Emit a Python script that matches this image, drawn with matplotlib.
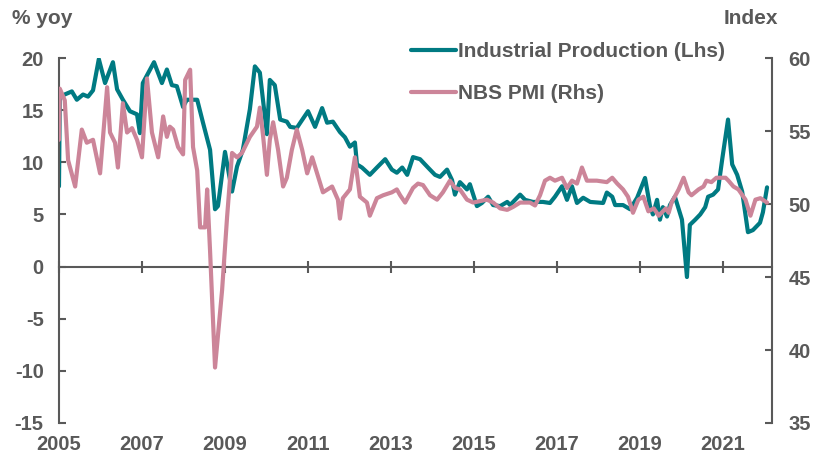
import matplotlib.pyplot as plt
import numpy as np

# Industrial production, % yoy (left axis)
ip_t = [2005.0, 2005.02, 2005.31, 2005.43, 2005.58, 2005.70, 2005.82, 2005.96, 2006.11, 2006.30,
        2006.40, 2006.54, 2006.71, 2006.88, 2006.95, 2007.02, 2007.29, 2007.48, 2007.60, 2007.72,
        2007.84, 2007.99, 2008.08, 2008.33, 2008.47, 2008.64, 2008.76, 2008.83, 2009.00, 2009.17,
        2009.29, 2009.43, 2009.60, 2009.72, 2009.84, 2010.01, 2010.08, 2010.20, 2010.33, 2010.49,
        2010.57, 2010.73, 2011.00, 2011.17, 2011.34, 2011.46, 2011.60, 2011.77, 2011.89, 2012.01,
        2012.13, 2012.18, 2012.30, 2012.49, 2012.66, 2012.86, 2013.02, 2013.14, 2013.27, 2013.39,
        2013.53, 2013.70, 2013.89, 2014.06, 2014.18, 2014.35, 2014.47, 2014.54, 2014.66, 2014.83,
        2014.90, 2015.07, 2015.19, 2015.34, 2015.46, 2015.63, 2015.80, 2015.87, 2016.11, 2016.23,
        2016.42, 2016.66, 2016.83, 2016.95, 2017.12, 2017.24, 2017.36, 2017.48, 2017.63, 2017.80,
        2018.11, 2018.20, 2018.33, 2018.40, 2018.59, 2018.76, 2018.93, 2019.12, 2019.24, 2019.31,
        2019.41, 2019.48, 2019.55, 2019.65, 2019.72, 2019.84, 2020.01, 2020.13, 2020.20, 2020.33,
        2020.45, 2020.57, 2020.64, 2020.76, 2020.88, 2020.98, 2021.12, 2021.22, 2021.34, 2021.46,
        2021.60, 2021.72, 2021.89, 2021.96, 2022.06]
ip_v = [7.7, 16.3, 16.8, 16.0, 16.5, 16.3, 16.9, 19.9, 17.6, 19.6,
        17.0, 16.0, 14.9, 14.6, 12.8, 17.6, 19.6, 17.6, 18.9, 17.4,
        17.3, 15.3, 16.0, 16.0, 13.8, 11.2, 5.5, 5.8, 11.0, 7.2,
        9.6, 11.2, 15.1, 19.2, 18.6, 12.7, 17.9, 17.4, 14.1, 13.9,
        13.4, 13.3, 14.9, 13.4, 15.2, 13.8, 13.9, 12.9, 12.4, 11.5,
        11.9, 9.8, 9.5, 8.8, 9.5, 10.3, 9.3, 9.0, 9.5, 8.8,
        10.5, 10.3, 9.5, 8.8, 8.6, 9.3, 8.3, 6.9, 8.1, 7.4,
        7.9, 5.8, 6.1, 6.7, 5.9, 5.8, 6.2, 5.9, 6.9, 6.4,
        6.2, 6.2, 6.1, 6.7, 7.7, 6.4, 7.7, 6.1, 6.6, 6.2,
        6.1, 7.1, 6.7, 5.9, 5.9, 5.5, 6.6, 8.5, 5.8, 5.0,
        6.4, 4.5, 5.7, 4.8, 5.9, 6.7, 4.5, -1.0, 4.0, 4.5,
        5.0, 5.7, 6.7, 6.9, 7.4, 10.3, 14.1, 9.8, 8.8, 7.2,
        3.3, 3.5, 4.2, 5.2, 7.6]

# NBS manufacturing PMI, index (right axis)
pmi_t = [2005.0, 2005.02, 2005.14, 2005.22, 2005.39, 2005.55, 2005.67, 2005.82, 2005.99, 2006.16,
         2006.23, 2006.35, 2006.42, 2006.54, 2006.64, 2006.76, 2006.88, 2007.00, 2007.12, 2007.24,
         2007.39, 2007.51, 2007.60, 2007.67, 2007.75, 2007.87, 2007.99, 2008.04, 2008.16, 2008.23,
         2008.33, 2008.40, 2008.52, 2008.57, 2008.64, 2008.76, 2008.93, 2009.05, 2009.17, 2009.29,
         2009.41, 2009.53, 2009.60, 2009.77, 2009.84, 2009.92, 2010.01, 2010.08, 2010.16, 2010.28,
         2010.40, 2010.49, 2010.61, 2010.73, 2010.86, 2010.98, 2011.10, 2011.22, 2011.36, 2011.58,
         2011.72, 2011.77, 2011.84, 2012.01, 2012.13, 2012.25, 2012.42, 2012.49, 2012.66, 2012.81,
         2013.02, 2013.14, 2013.22, 2013.34, 2013.53, 2013.65, 2013.77, 2013.94, 2014.11, 2014.25,
         2014.42, 2014.54, 2014.66, 2014.83, 2014.98, 2015.31, 2015.46, 2015.63, 2015.80, 2015.94,
         2016.11, 2016.35, 2016.47, 2016.59, 2016.71, 2016.83, 2016.95, 2017.12, 2017.24, 2017.36,
         2017.48, 2017.60, 2017.72, 2017.96, 2018.20, 2018.33, 2018.45, 2018.59, 2018.71, 2018.83,
         2018.96, 2019.08, 2019.20, 2019.33, 2019.45, 2019.62, 2019.69, 2019.76, 2019.93, 2020.05,
         2020.17, 2020.24, 2020.41, 2020.53, 2020.60, 2020.72, 2020.84, 2021.06, 2021.13, 2021.25,
         2021.37, 2021.54, 2021.66, 2021.78, 2021.90, 2022.06]
pmi_v = [54.4, 57.9, 57.1, 53.0, 51.2, 55.1, 54.2, 54.4, 52.1, 58.0,
         54.9, 54.2, 52.5, 56.9, 54.9, 55.2, 54.4, 53.2, 58.6, 54.9,
         53.2, 56.0, 54.6, 55.3, 55.1, 53.9, 53.4, 58.5, 59.2, 53.9,
         52.3, 48.4, 48.4, 51.0, 46.8, 38.8, 44.1, 49.1, 53.5, 53.2,
         53.5, 54.2, 54.6, 55.3, 56.6, 54.6, 52.0, 54.4, 55.6, 53.7,
         51.2, 51.8, 53.7, 55.1, 53.7, 52.1, 53.2, 52.1, 50.8, 51.2,
         50.3, 49.0, 50.4, 51.0, 53.2, 50.5, 50.1, 49.2, 50.4, 50.6,
         50.8, 51.0, 50.6, 50.1, 51.1, 51.4, 51.3, 50.6, 50.3, 50.8,
         51.6, 51.1, 51.0, 50.3, 50.1, 50.3, 50.1, 49.7, 49.6, 49.8,
         50.1, 50.1, 49.9, 50.6, 51.6, 51.8, 51.6, 51.8, 51.1, 51.6,
         51.4, 52.5, 51.6, 51.6, 51.5, 51.8, 51.4, 51.0, 50.5, 49.4,
         50.3, 50.5, 49.5, 49.7, 49.2, 49.7, 49.4, 50.1, 51.0, 51.8,
         50.8, 50.6, 51.0, 51.2, 51.6, 51.5, 51.8, 51.8, 51.6, 51.2,
         51.0, 50.3, 49.2, 50.3, 50.4, 50.1]

years = [2005, 2007, 2009, 2011, 2013, 2015, 2017, 2019, 2021]
left_ticks = [-15, -10, -5, 0, 5, 10, 15, 20]
right_ticks = [35, 40, 45, 50, 55, 60]

teal = "#007A82"
pink = "#CC8599"
grey = "#595959"

plt.rcParams["font.family"] = ["Liberation Sans", "DejaVu Sans"]
plt.rcParams["font.weight"] = "bold"
plt.rcParams["font.size"] = 14.5
plt.rcParams["axes.unicode_minus"] = False

fig = plt.figure(figsize=(8.18, 4.57), dpi=100)
ax = fig.add_axes([0.0721, 0.0744, 0.8717, 0.7986])
ax2 = ax.twinx()

ax.plot(ip_t, ip_v, color=teal, lw=3, label="Industrial Production (Lhs)", solid_capstyle="round")
ax2.plot(pmi_t, pmi_v, color=pink, lw=3, label="NBS PMI (Rhs)", solid_capstyle="round")

ax.set_xlim(2005.0, 2022.18)
ax.set_ylim(-15, 20)
ax2.set_ylim(35, 60)
ax.set_yticks(left_ticks)
ax2.set_yticks(right_ticks)
ax.set_xticks(years)
ax.set_xticklabels([str(y) for y in years])

for a in (ax, ax2):
    for s in ("top", "bottom"):
        a.spines[s].set_visible(False)
    a.patch.set_visible(False)
ax.spines["right"].set_visible(False)
ax2.spines["left"].set_visible(False)
ax.spines["left"].set_color(grey)
ax.spines["left"].set_linewidth(1.5)
ax2.spines["right"].set_color(grey)
ax2.spines["right"].set_linewidth(1.5)

ax.tick_params(axis="y", direction="in", length=5, width=1.5, color=grey, labelcolor=grey, pad=11)
ax2.tick_params(axis="y", direction="in", length=5, width=1.5, color=grey, labelcolor=grey, pad=12)
ax.tick_params(axis="x", length=0, labelcolor=grey, pad=8.5)

# zero line with year ticks
zero = ax.secondary_xaxis(15 / 35)
zero.set_xticks(years)
zero.spines["bottom"].set_color(grey)
zero.spines["bottom"].set_linewidth(1.5)
zero.tick_params(direction="inout", length=8, width=1.5, color=grey, labelbottom=False)

fig.text(12 / 818, 1 - 19 / 457, "% yoy", color=grey, ha="left", va="center", fontsize=15)
fig.text(778 / 818, 1 - 19 / 457, "Index", color=grey, ha="right", va="center", fontsize=15)

h1, l1 = ax.get_legend_handles_labels()
h2, l2 = ax2.get_legend_handles_labels()
fig.legend(h1 + h2, l1 + l2, loc="upper left", bbox_to_anchor=(403 / 818, 1 - 34 / 457),
           frameon=False, handlelength=2.15, handletextpad=0.1, labelspacing=1.1,
           borderaxespad=0, labelcolor=grey, fontsize=15)

fig.savefig("out.png", dpi=100)
